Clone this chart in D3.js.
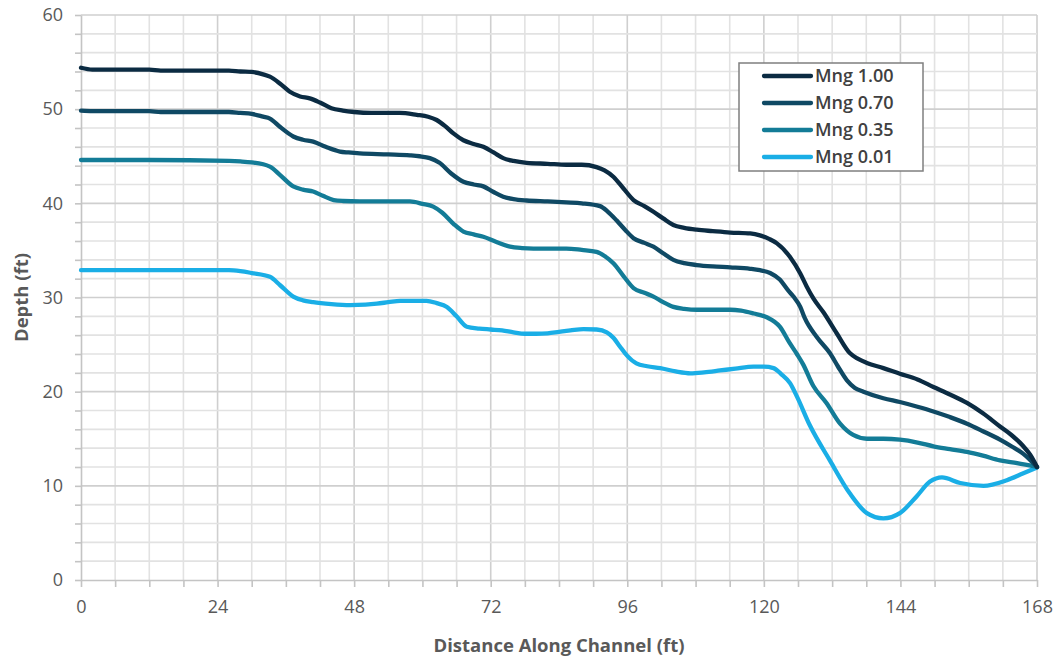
<!DOCTYPE html>
<html>
<head>
<meta charset="utf-8">
<script src="https://cdn.jsdelivr.net/npm/d3@7"></script>
<style>
  body { margin: 0; background: #fff; }
  text { font-family: "Open Sans", "Noto Sans", sans-serif; }
</style>
</head>
<body>
<svg id="chart" width="1058" height="662"></svg>
<script>
// values
const seriesNames = ["Mng 1.00", "Mng 0.70", "Mng 0.35", "Mng 0.01"]
const seriesColors = ["#0b2b42", "#0f4964", "#137c97", "#1aaee6"]

const dist100 = [0,2,12,14,26,28,30,32,33.2,35,36.7,38.5,40.2,42,44,46,48,51,56,59,61,62.5,64,65.5,67.2,69,70.7,72.5,74.2,76,78.3,82,85.3,88,90.6,92,93.6,95.3,97.1,99,100.6,102.3,104.1,106,108.2,111,114.1,117.6,119.3,121,122.3,124.6,126.4,127.5,128.7,130.5,132.8,135.1,136.5,138.1,141,143.9,147,149.8,152.7,155.7,158.5,161.5,163.5,165.6,166.8,168]
const depth100 = [54.4,54.2,54.2,54.1,54.1,54.0,53.95,53.7,53.45,52.7,51.85,51.35,51.15,50.7,50.1,49.85,49.7,49.6,49.6,49.4,49.2,48.85,48.2,47.4,46.7,46.3,46.0,45.4,44.8,44.5,44.3,44.2,44.1,44.1,43.85,43.5,42.8,41.6,40.35,39.7,39.1,38.4,37.7,37.4,37.2,37.05,36.9,36.8,36.6,36.2,35.75,34.3,32.55,31.2,29.9,28.4,26.2,24.1,23.5,23.05,22.5,21.9,21.3,20.5,19.7,18.8,17.7,16.3,15.4,14.2,13.3,12.0]

const dist070 = [0,2,12,14,26,28,30,32,33.2,35,37.3,39,40.8,43,45.5,47,49,54,57.8,59.5,61.3,63,65,67.2,69,70.7,72.5,74.2,76,78.3,82,85.3,88,91.2,92.6,94.1,95.6,97.1,99,100.6,102.3,104.1,106,108.2,111,114.1,117.6,119.3,121.1,122.8,124.2,125.2,126.4,127.2,129.3,131.6,133,134.6,136,137.5,141,143.9,147,149.8,152.7,155.7,158.5,161.5,163.5,165.6,168]
const depth070 = [49.85,49.8,49.8,49.7,49.7,49.6,49.5,49.2,49.0,48.1,47.1,46.75,46.55,46.0,45.5,45.4,45.3,45.2,45.1,45.0,44.8,44.3,43.2,42.3,42.0,41.8,41.2,40.7,40.45,40.3,40.2,40.1,40.0,39.7,39.1,38.2,37.2,36.3,35.8,35.4,34.7,34.0,33.65,33.45,33.3,33.2,33.05,32.9,32.6,31.9,30.8,30.1,29.0,27.8,25.8,24.1,22.7,21.2,20.4,20.0,19.3,18.9,18.4,17.9,17.3,16.6,15.8,14.9,14.2,13.4,12.0]

const dist035 = [0,12,26,28,30,33.2,35,37.3,39,40.8,42.5,44.4,46,49,54,57.8,60,61.9,63.5,65.5,67.2,69,70.7,73,75.4,77.5,79.5,85.3,88,90.6,92,93.6,95.3,97.1,99,100.6,102.3,104.1,106,108.2,114.1,116,118.2,120.5,122.8,124.5,125.8,126.9,128.7,131,133.4,135.7,138.1,141,143.9,147,149.8,152.7,155.7,158.5,161.5,164.5,168]
const depth035 = [44.6,44.6,44.5,44.45,44.35,43.9,43.0,41.8,41.45,41.25,40.8,40.35,40.25,40.2,40.2,40.2,39.95,39.65,39.0,37.8,37.0,36.7,36.45,35.9,35.4,35.25,35.2,35.2,35.05,34.85,34.4,33.6,32.3,31.0,30.5,30.1,29.5,29.0,28.8,28.7,28.7,28.6,28.3,27.9,26.9,25.2,24.0,22.9,20.6,18.8,16.6,15.4,15.0,15.0,14.9,14.6,14.2,13.9,13.6,13.2,12.7,12.4,12.0]

const dist001 = [0,12,26,28,30,33.2,35,37.3,39,40.8,44,47.3,50,52,54,56.1,60.7,62.5,64.3,66,67.8,70,72,74,76,78,80,82,84,86,88.3,90.6,92.4,93.6,94.7,96,97.6,99.5,101.8,104.5,107.1,109.5,112.3,115,118.2,120,121.7,123,124.6,125.8,128.1,131.6,135.1,138.1,141,143.9,146.8,149.2,151.3,154.5,158.6,162.7,165.5,168]
const depth001 = [32.9,32.9,32.9,32.8,32.6,32.2,31.3,30.1,29.7,29.5,29.3,29.2,29.25,29.35,29.5,29.65,29.65,29.4,29.0,28.0,26.9,26.7,26.6,26.5,26.3,26.15,26.15,26.2,26.35,26.5,26.65,26.6,26.3,25.7,24.8,23.8,23.0,22.7,22.5,22.15,21.95,22.05,22.25,22.45,22.65,22.65,22.5,21.9,20.9,19.5,16.4,12.7,9.2,7.1,6.55,7.1,8.85,10.45,10.9,10.3,10.0,10.6,11.3,11.95]

const xTicks = [0, 24, 48, 72, 96, 120, 144, 168]
const yTicks = [0, 10, 20, 30, 40, 50, 60]

const seriesDist = [dist100, dist070, dist035, dist001]
const seriesDepth = [depth100, depth070, depth035, depth001]

var svg = d3.select("#chart")
var plotL = 81, plotR = 1037, plotT = 15, plotB = 580

var x = d3.scaleLinear().domain([0, 168]).range([plotL, plotR])
var y = d3.scaleLinear().domain([0, 60]).range([plotB, plotT])

// grid
var g = svg.append("g")
g.selectAll("line.v").data(d3.range(6, 169, 6)).enter().append("line")
  .attr("x1", d => x(d)).attr("x2", d => x(d)).attr("y1", plotT).attr("y2", plotB)
  .attr("stroke", d => d % 24 == 0 ? "#cfcfcf" : "#e2e2e2").attr("stroke-width", 1.6)
g.selectAll("line.h").data(d3.range(2, 61, 2)).enter().append("line")
  .attr("x1", plotL).attr("x2", plotR).attr("y1", d => y(d)).attr("y2", d => y(d))
  .attr("stroke", d => d % 10 == 0 ? "#cfcfcf" : "#e2e2e2").attr("stroke-width", 1.6)

// axes
var xAxis = d3.axisBottom(x).tickValues(d3.range(0, 169, 6)).tickSize(7).tickSizeOuter(0)
  .tickFormat(d => xTicks.includes(d) ? d : "")
var gx = svg.append("g").attr("transform", "translate(0," + plotB + ")").call(xAxis)
gx.select(".domain").attr("stroke", "#c4c4c4").attr("stroke-width", 1.6)
gx.selectAll(".tick line").attr("stroke", "#c4c4c4").attr("stroke-width", 1.6)
gx.selectAll(".tick text").attr("font-size", 18).attr("fill", "#595959").attr("y", 20)
  .style("font-family", "'Open Sans', sans-serif")

var yAxis = d3.axisLeft(y).tickValues(d3.range(0, 61, 2)).tickSize(6).tickSizeOuter(0)
  .tickFormat(d => yTicks.includes(d) ? d : "")
var gy = svg.append("g").attr("transform", "translate(" + plotL + ",0)").call(yAxis)
gy.select(".domain").attr("stroke", "#c4c4c4").attr("stroke-width", 1.6)
gy.selectAll(".tick line").attr("stroke", "#c4c4c4").attr("stroke-width", 1.6)
gy.selectAll(".tick text").attr("font-size", 18).attr("fill", "#595959").attr("x", -18)
  .style("font-family", "'Open Sans', sans-serif")

// axis titles
svg.append("text").attr("x", (plotL + plotR) / 2).attr("y", 652).attr("text-anchor", "middle")
  .attr("font-size", 18.5).attr("font-weight", "bold").attr("fill", "#595959")
  .text("Distance Along Channel (ft)")
svg.append("text").attr("transform", "translate(28," + ((plotT + plotB) / 2) + ") rotate(-90)")
  .attr("text-anchor", "middle").attr("font-size", 18.5).attr("font-weight", "bold").attr("fill", "#595959")
  .text("Depth (ft)")

// lines
var line = d3.line().x(d => x(d[0])).y(d => y(d[1])).curve(d3.curveMonotoneX)
for (var i = seriesNames.length - 1; i >= 0; i--) {
  var pts = seriesDist[i].map((d, j) => [d, seriesDepth[i][j]])
  svg.append("path").datum(pts).attr("d", line).attr("fill", "none")
    .attr("stroke", seriesColors[i]).attr("stroke-width", 4.3)
    .attr("stroke-linejoin", "round").attr("stroke-linecap", "round")
}

// legend
var lg = svg.append("g")
lg.append("rect").attr("x", 739).attr("y", 63).attr("width", 184).attr("height", 108)
  .attr("fill", "#fff").attr("stroke", "#7f7f7f").attr("stroke-width", 1.5)
seriesNames.forEach(function(name, i) {
  var yy = 76 + i * 27
  lg.append("line").attr("x1", 764).attr("x2", 811).attr("y1", yy).attr("y2", yy)
    .attr("stroke", seriesColors[i]).attr("stroke-width", 4.3).attr("stroke-linecap", "round")
  lg.append("text").attr("x", 815).attr("y", yy).attr("dy", "0.35em")
    .attr("font-size", 18).attr("font-weight", 600).attr("fill", "#404040").text(name)
})
</script>
</body>
</html>
